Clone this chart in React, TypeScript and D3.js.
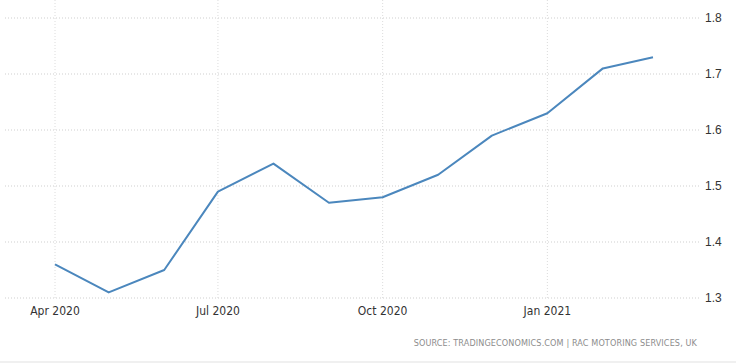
import React from "react";
import * as d3 from "d3";

const months = [
  "2020-04", "2020-05", "2020-06", "2020-07", "2020-08", "2020-09",
  "2020-10", "2020-11", "2020-12", "2021-01", "2021-02", "2021-03",
];
const values = [1.36, 1.31, 1.35, 1.49, 1.54, 1.47, 1.48, 1.52, 1.59, 1.63, 1.71, 1.73];
const xTicks = ["2020-04", "2020-07", "2020-10", "2021-01"];
const yTicks = [1.3, 1.4, 1.5, 1.6, 1.7, 1.8];
const sourceText = "SOURCE: TRADINGECONOMICS.COM | RAC MOTORING SERVICES, UK";

const width = 736;
const height = 364;
const parseMonth = d3.timeParse("%Y-%m");

const App: React.FC = () => {
  const data = months.map((m, i) => ({ date: parseMonth(m) as Date, value: values[i] }));

  const xScale = d3
    .scaleTime()
    .domain(d3.extent(data, (d) => d.date) as [Date, Date])
    .range([55, 653]);

  const yScale = d3.scaleLinear().domain([1.3, 1.8]).range([298, 18]);

  const line = d3
    .line<{ date: Date; value: number }>()
    .x((d) => xScale(d.date))
    .y((d) => yScale(d.value));

  const fmt = d3.timeFormat("%b %Y");
  const font = "'Liberation Sans Narrow', 'Arial Narrow', 'DejaVu Sans Condensed', sans-serif";

  return (
    <svg
      width={width}
      height={height}
      style={{ position: "absolute", left: 0, top: 0, background: "#fff" }}
    >
      {/* horizontal grid */}
      {yTicks.map((t) => (
        <g key={t}>
          <line
            x1={5}
            x2={701}
            y1={yScale(t)}
            y2={yScale(t)}
            stroke="#cfcfcf"
            strokeWidth={1}
            strokeDasharray="1,2"
          />
          <text
            x={705}
            y={yScale(t) + 4}
            fontSize={12}
            fontFamily="Arial, 'Liberation Sans', sans-serif"
            fill="#333"
          >
            {t.toFixed(1)}
          </text>
        </g>
      ))}
      {/* vertical grid */}
      {xTicks.map((m) => {
        const x = xScale(parseMonth(m) as Date);
        return (
          <g key={m}>
            <line
              x1={x}
              x2={x}
              y1={0}
              y2={298}
              stroke="#dcdcdc"
              strokeWidth={1}
              strokeDasharray="1,2"
            />
            <text
              x={x}
              y={315}
              textAnchor="middle"
              fontSize={12}
              fontFamily={font}
              fill="#333"
            >
              {fmt(parseMonth(m) as Date)}
            </text>
          </g>
        );
      })}
      <path
        d={line(data) || ""}
        fill="none"
        stroke="#4b87bd"
        strokeWidth={2}
        strokeLinejoin="round"
      />
      <text
        x={697}
        y={346}
        textAnchor="end"
        fontSize={9}
        fontFamily={font}
        letterSpacing={0.12}
        fill="#8c8c8c"
      >
        {sourceText}
      </text>
      <line x1={0} x2={width} y1={362} y2={362} stroke="#f0f0f0" strokeWidth={2} />
    </svg>
  );
};

export default App;
